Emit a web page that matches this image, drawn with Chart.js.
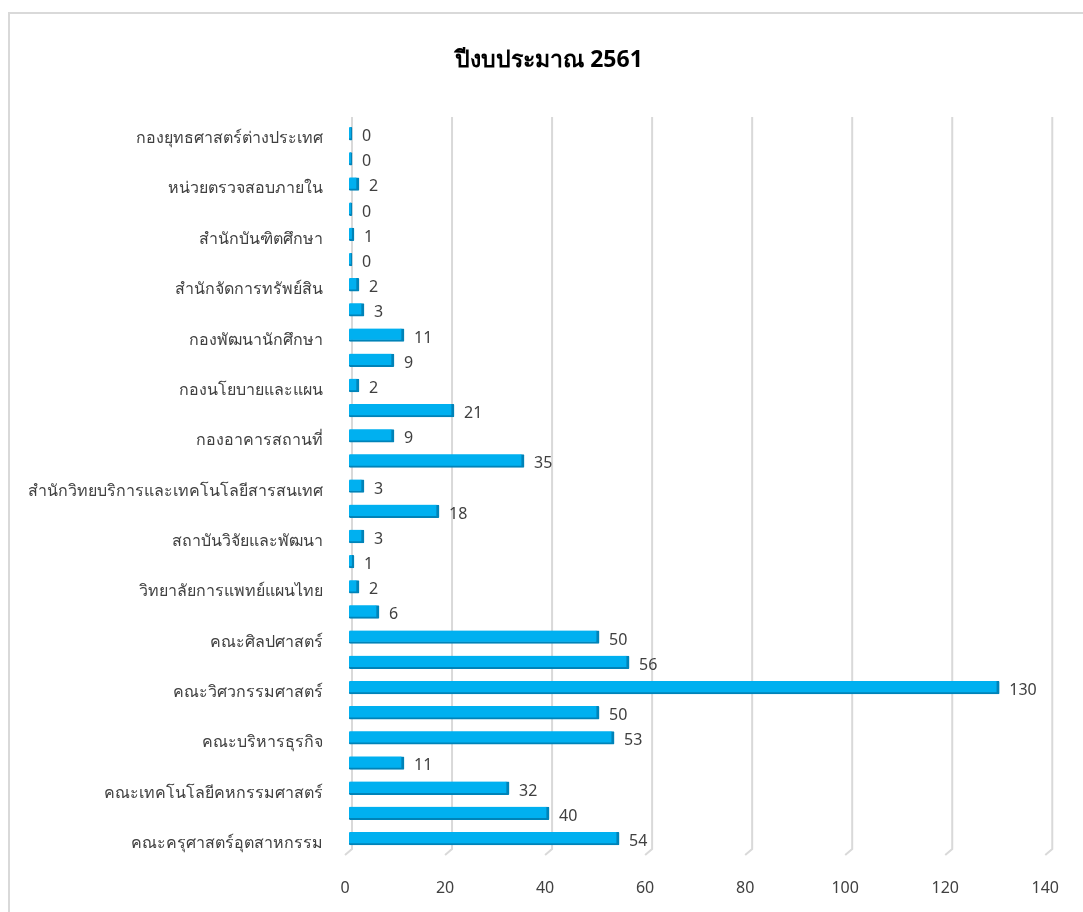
<!DOCTYPE html>
<html>

<head>
    <meta charset="utf-8">
    <title>ปีงบประมาณ 2561</title>
</head>

<style>
    body {
        margin: 0;
        background-color: #ffffff;
        font-family: Tahoma, "Noto Sans", sans-serif;
    }

    .frame {
        position: absolute;
        left: 8px;
        top: 12px;
        width: 1100px;
        height: 920px;
        border-left: 2px solid #d9d9d9;
        border-top: 2px solid #d9d9d9;
    }

    .chart-container {
        position: absolute;
        left: 0;
        top: 0;
        width: 1083px;
        height: 912px;
    }
</style>

<body>
    <div class="frame"></div>
    <div class="chart-container">
        <canvas id="barChart"></canvas>
    </div>

    <script src="https://cdn.jsdelivr.net/npm/chart.js"></script>

    <script>
        // categories top to bottom, every other row has no printed name
        var categories = [
            'กองยุทธศาสตร์ต่างประเทศ', '',
            'หน่วยตรวจสอบภายใน', '',
            'สำนักบันฑิตศึกษา', '',
            'สำนักจัดการทรัพย์สิน', '',
            'กองพัฒนานักศึกษา', '',
            'กองนโยบายและแผน', '',
            'กองอาคารสถานที่', '',
            'สำนักวิทยบริการและเทคโนโลยีสารสนเทศ', '',
            'สถาบันวิจัยและพัฒนา', '',
            'วิทยาลัยการแพทย์แผนไทย', '',
            'คณะศิลปศาสตร์', '',
            'คณะวิศวกรรมศาสตร์', '',
            'คณะบริหารธุรกิจ', '',
            'คณะเทคโนโลยีคหกรรมศาสตร์', '',
            'คณะครุศาสตร์อุตสาหกรรม'
        ];
        var counts = [
            0, 0, 2, 0, 1, 0, 2, 3, 11, 9,
            2, 21, 9, 35, 3, 18, 3, 1, 2, 6,
            50, 56, 130, 50, 53, 11, 32, 40, 54
        ];
        var xTicks = [0, 20, 40, 60, 80, 100, 120, 140];
        var chartTitle = 'ปีงบประมาณ 2561';

        var fontFamily = 'Tahoma, "Noto Sans", sans-serif';

        // back-wall gridlines, pushed a little right with a short slant at the floor
        var wallGrid = {
            id: 'wallGrid',
            beforeDatasetsDraw: function (chart) {
                var ctx = chart.ctx;
                var area = chart.chartArea;
                var xs = chart.scales.x;
                ctx.save();
                ctx.strokeStyle = '#d9d9d9';
                ctx.lineWidth = 2;
                xTicks.forEach(function (v) {
                    var px = xs.getPixelForValue(v);
                    ctx.beginPath();
                    ctx.moveTo(px + 3, area.top - 4);
                    ctx.lineTo(px + 3, area.bottom - 2);
                    ctx.lineTo(px - 4, area.bottom + 4);
                    ctx.stroke();
                });
                ctx.restore();
            }
        };

        // title and the value printed just past the end of each bar
        var valueLabels = {
            id: 'valueLabels',
            afterDatasetsDraw: function (chart) {
                var ctx = chart.ctx;
                var meta = chart.getDatasetMeta(0);
                ctx.save();
                ctx.font = '16px ' + fontFamily;
                ctx.fillStyle = '#404040';
                ctx.textAlign = 'left';
                ctx.textBaseline = 'middle';
                meta.data.forEach(function (bar, i) {
                    ctx.fillText(counts[i], bar.x + 10, bar.y + 3);
                });

                ctx.font = 'bold 23px ' + fontFamily;
                ctx.fillStyle = '#000000';
                ctx.textAlign = 'center';
                ctx.fillText(chartTitle, 549, 60);
                ctx.restore();
            }
        };

        var barCtx = document.getElementById('barChart').getContext('2d');
        var barChart = new Chart(barCtx, {
            type: 'bar',
            data: {
                labels: categories,
                datasets: [{
                    data: counts,
                    backgroundColor: '#00b0f0',
                    borderColor: '#0083b8',
                    borderWidth: { top: 0, right: 3, bottom: 2, left: 0 },
                    borderSkipped: false,
                    borderRadius: 1,
                    barThickness: 13,
                    minBarLength: 3
                }]
            },
            options: {
                indexAxis: 'y',
                responsive: true,
                maintainAspectRatio: false,
                animation: false,
                layout: {
                    padding: { left: 0, right: 33, top: 121, bottom: 0 }
                },
                plugins: {
                    legend: { display: false },
                    tooltip: { enabled: false },
                    title: { display: false }
                },
                scales: {
                    x: {
                        min: 0,
                        max: 140,
                        afterBuildTicks: function (scale) {
                            scale.ticks = xTicks.map(function (v) { return { value: v }; });
                        },
                        afterFit: function (scale) {
                            scale.height = 61;
                        },
                        grid: { display: false },
                        border: { display: false },
                        ticks: {
                            color: '#404040',
                            padding: 20,
                            labelOffset: -4,
                            font: { family: fontFamily, size: 16 }
                        }
                    },
                    y: {
                        afterFit: function (scale) {
                            scale.width = 349;
                        },
                        grid: { display: false },
                        border: { display: false },
                        ticks: {
                            autoSkip: false,
                            color: '#404040',
                            padding: 18,
                            labelOffset: 5,
                            font: { family: fontFamily, size: 16 }
                        }
                    }
                }
            },
            plugins: [wallGrid, valueLabels]
        });
    </script>

</body>

</html>
